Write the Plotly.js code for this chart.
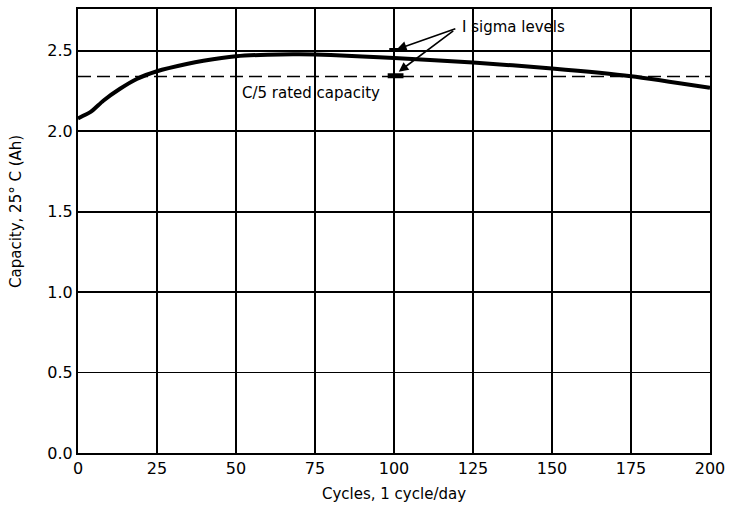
<!DOCTYPE html>
<html>
<head>
<meta charset="utf-8">
<script src="https://cdn.plot.ly/plotly-3.0.1.min.js"></script>
<style>body{margin:0;background:#fff}#chart{width:731px;height:505px}</style>
</head>
<body>
<div id="chart"></div>
<script>
// Capacity curve (cycles vs Ah)
const cycles   = [0, 4, 8, 13.3, 18.6, 25, 34.4, 39.7, 50, 60, 70, 80, 90, 100, 125, 150, 175, 200];
const capacity = [2.08, 2.12, 2.19, 2.264, 2.325, 2.373, 2.418, 2.438, 2.466, 2.476, 2.478, 2.474, 2.465, 2.455, 2.428, 2.39, 2.342, 2.27];
// C/5 rated capacity line
const ratedX = [0, 200];
const ratedY = [2.34, 2.34];
// 1 sigma level markers
const sigmaHiX = [98.5, 103.5];
const sigmaHiY = [2.505, 2.505];
const sigmaLoX = [98, 103];
const sigmaLoY = [2.345, 2.345];
const xTicks = [0, 25, 50, 75, 100, 125, 150, 175, 200];
const yTicks = [0.0, 0.5, 1.0, 1.5, 2.0, 2.5];
const yTickText = ['0.0', '0.5', '1.0', '1.5', '2.0', '2.5'];

const traces = [
  {x: ratedX, y: ratedY, mode: 'lines', line: {color: '#000', width: 1.6, dash: '13px,6px'}, hoverinfo: 'skip'},
  {x: cycles, y: capacity, mode: 'lines', line: {color: '#000', width: 4, shape: 'spline', smoothing: 0.6}, hoverinfo: 'skip'},
  {x: sigmaHiX, y: sigmaHiY, mode: 'lines', line: {color: '#000', width: 4}, hoverinfo: 'skip'},
  {x: sigmaLoX, y: sigmaLoY, mode: 'lines', line: {color: '#000', width: 5}, hoverinfo: 'skip'}
];

const fam = 'DejaVu Sans, Verdana, sans-serif';
const font = {family: fam, color: '#000'};

const layout = {
  width: 731, height: 505,
  margin: {l: 78, r: 21, t: 9, b: 52},
  paper_bgcolor: '#fff', plot_bgcolor: '#fff',
  showlegend: false,
  font: font,
  xaxis: {
    range: [0, 200], tickvals: xTicks, ticktext: xTicks.map(String),
    showgrid: true, gridcolor: '#000', gridwidth: 1.8,
    zeroline: false, showline: true, linecolor: '#000', linewidth: 2, mirror: true,
    ticks: '', tickfont: {family: fam, size: 16, color: '#000'},
    title: {text: 'Cycles, 1 cycle/day', font: {family: fam, size: 15, color: '#000'}, standoff: 11}
  },
  yaxis: {
    range: [0, 2.76], tickvals: yTicks, ticktext: yTickText,
    showgrid: true, gridcolor: '#000', gridwidth: 1.8,
    zeroline: false, showline: true, linecolor: '#000', linewidth: 2, mirror: true,
    ticks: '', tickfont: {family: fam, size: 16, color: '#000'}
  },
  annotations: [
    {xref: 'paper', yref: 'paper', x: -0.098, y: 0.543, xanchor: 'center', yanchor: 'middle', textangle: -90,
     text: 'Capacity, 25° C (Ah)', showarrow: false, font: {family: fam, size: 15, color: '#000'}},
    {x: 51.3, y: 2.24, xanchor: 'left', yanchor: 'middle', text: 'C/5 rated capacity', showarrow: false,
     font: {family: fam, size: 15, color: '#000'}},
    {x: 120.9, y: 2.65, xanchor: 'left', yanchor: 'middle', text: 'I sigma levels', showarrow: false,
     font: {family: fam, size: 15, color: '#000'}},
    {x: 100.9, y: 2.51, ax: 60, ay: -21, text: '', showarrow: true, arrowhead: 2, arrowsize: 1.2, arrowwidth: 1.6, arrowcolor: '#000'},
    {x: 101.5, y: 2.37, ax: 56, ay: -42, text: '', showarrow: true, arrowhead: 2, arrowsize: 1.2, arrowwidth: 1.6, arrowcolor: '#000'}
  ]
};

Plotly.newPlot('chart', traces, layout, {displayModeBar: false, staticPlot: true});
</script>
</body>
</html>
